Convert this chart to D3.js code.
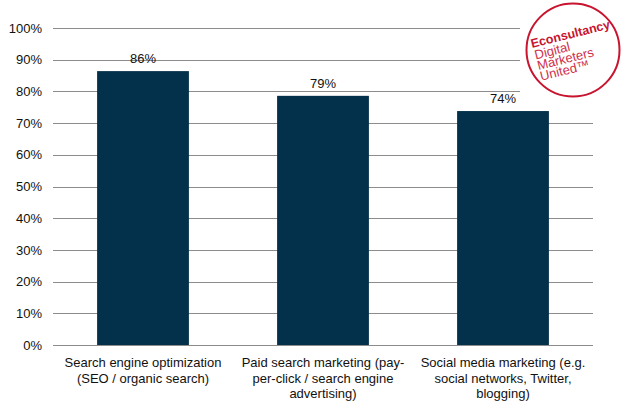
<!DOCTYPE html>
<html>
<head>
<meta charset="utf-8">
<script src="https://cdn.jsdelivr.net/npm/d3@7"></script>
<style>
  html, body { margin: 0; padding: 0; background: #fff; }
  svg { display: block; font-family: "Liberation Sans", Arial, sans-serif; }
</style>
</head>
<body>
<svg id="chart" width="624" height="408"></svg>
<script>
// ---- data ----
const categories = ["SEO", "Paid search", "Social media"];
const categoryLines = [
  ["Search engine optimization", "(SEO / organic search)"],
  ["Paid search marketing (pay-", "per-click / search engine", "advertising)"],
  ["Social media marketing (e.g.", "social networks, Twitter,", "blogging)"]
];
const values = [0.864, 0.786, 0.738];
const yTicks = [0, 0.1, 0.2, 0.3, 0.4, 0.5, 0.6, 0.7, 0.8, 0.9, 1.0];
const logoLines = ["Digital", "Marketers", "United\u2122"];

// ---- chart ----
const svg = d3.select("#chart");
const mLeft = 53, mRight = 593, mTop = 28, mBottom = 345;
const FS = 13;

const x = d3.scaleBand().domain(categories).range([mLeft, mRight])
  .paddingInner(0.49).paddingOuter(0.245);
const y = d3.scaleLinear().domain([0, 1]).range([mBottom, mTop]);

// gridlines
const yAxis = d3.axisLeft(y).tickValues(yTicks).tickFormat(d3.format(".0%"))
  .tickSize(-(mRight - mLeft)).tickPadding(11);
const gy = svg.append("g").attr("transform", `translate(${mLeft},0)`).call(yAxis);
gy.select(".domain").remove();
gy.selectAll(".tick line").attr("stroke", "#8c8c8c").attr("stroke-width", 1)
  .attr("shape-rendering", "crispEdges");
gy.selectAll(".tick text").attr("fill", "#111").attr("font-size", FS)
  .attr("font-family", "\"Liberation Sans\", Arial, sans-serif");

// bars
svg.append("g").selectAll("rect").data(values).join("rect")
  .attr("x", (d, i) => x(categories[i]))
  .attr("y", d => y(d))
  .attr("width", x.bandwidth())
  .attr("height", d => y(0) - y(d))
  .attr("fill", "#03304a");

// value labels
svg.append("g").selectAll("text").data(values).join("text")
  .attr("x", (d, i) => x(categories[i]) + x.bandwidth() / 2)
  .attr("y", d => y(d) - 8)
  .attr("text-anchor", "middle")
  .attr("font-size", FS)
  .attr("fill", "#111")
  .text(d => d3.format(".0%")(d));

// category labels
const cl = svg.append("g").selectAll("text").data(categoryLines).join("text")
  .attr("text-anchor", "middle")
  .attr("font-size", FS)
  .attr("fill", "#111");
cl.each(function(lines, i) {
  const cx = x(categories[i]) + x.bandwidth() / 2;
  d3.select(this).selectAll("tspan").data(lines).join("tspan")
    .attr("x", cx)
    .attr("y", (d, j) => mBottom + 22 + j * 15.5)
    .text(d => d);
});

// logo
const logo = svg.append("g");
logo.append("rect").attr("x", 520).attr("y", 0).attr("width", 104).attr("height", 100).attr("fill", "#fff");
logo.append("circle").attr("cx", 573).attr("cy", 50).attr("r", 46.5)
  .attr("fill", "#fff").attr("stroke", "#c8142f").attr("stroke-width", 2);
const lt = logo.append("g").attr("transform", "translate(532,48) rotate(-14)");
lt.append("text").attr("x", 0).attr("y", 0).attr("font-size", 12.5).attr("font-weight", "bold")
  .attr("fill", "#c8142f").text("Econsultancy");
lt.selectAll("text.sub").data(logoLines).join("text").attr("class", "sub")
  .attr("x", 1).attr("y", (d, i) => 12 + i * 11)
  .attr("font-size", 13)
  .attr("font-family", "\"Liberation Sans Narrow\", \"Liberation Sans\", Arial, sans-serif")
  .attr("fill", "#d0304a")
  .text(d => d);
</script>
</body>
</html>
